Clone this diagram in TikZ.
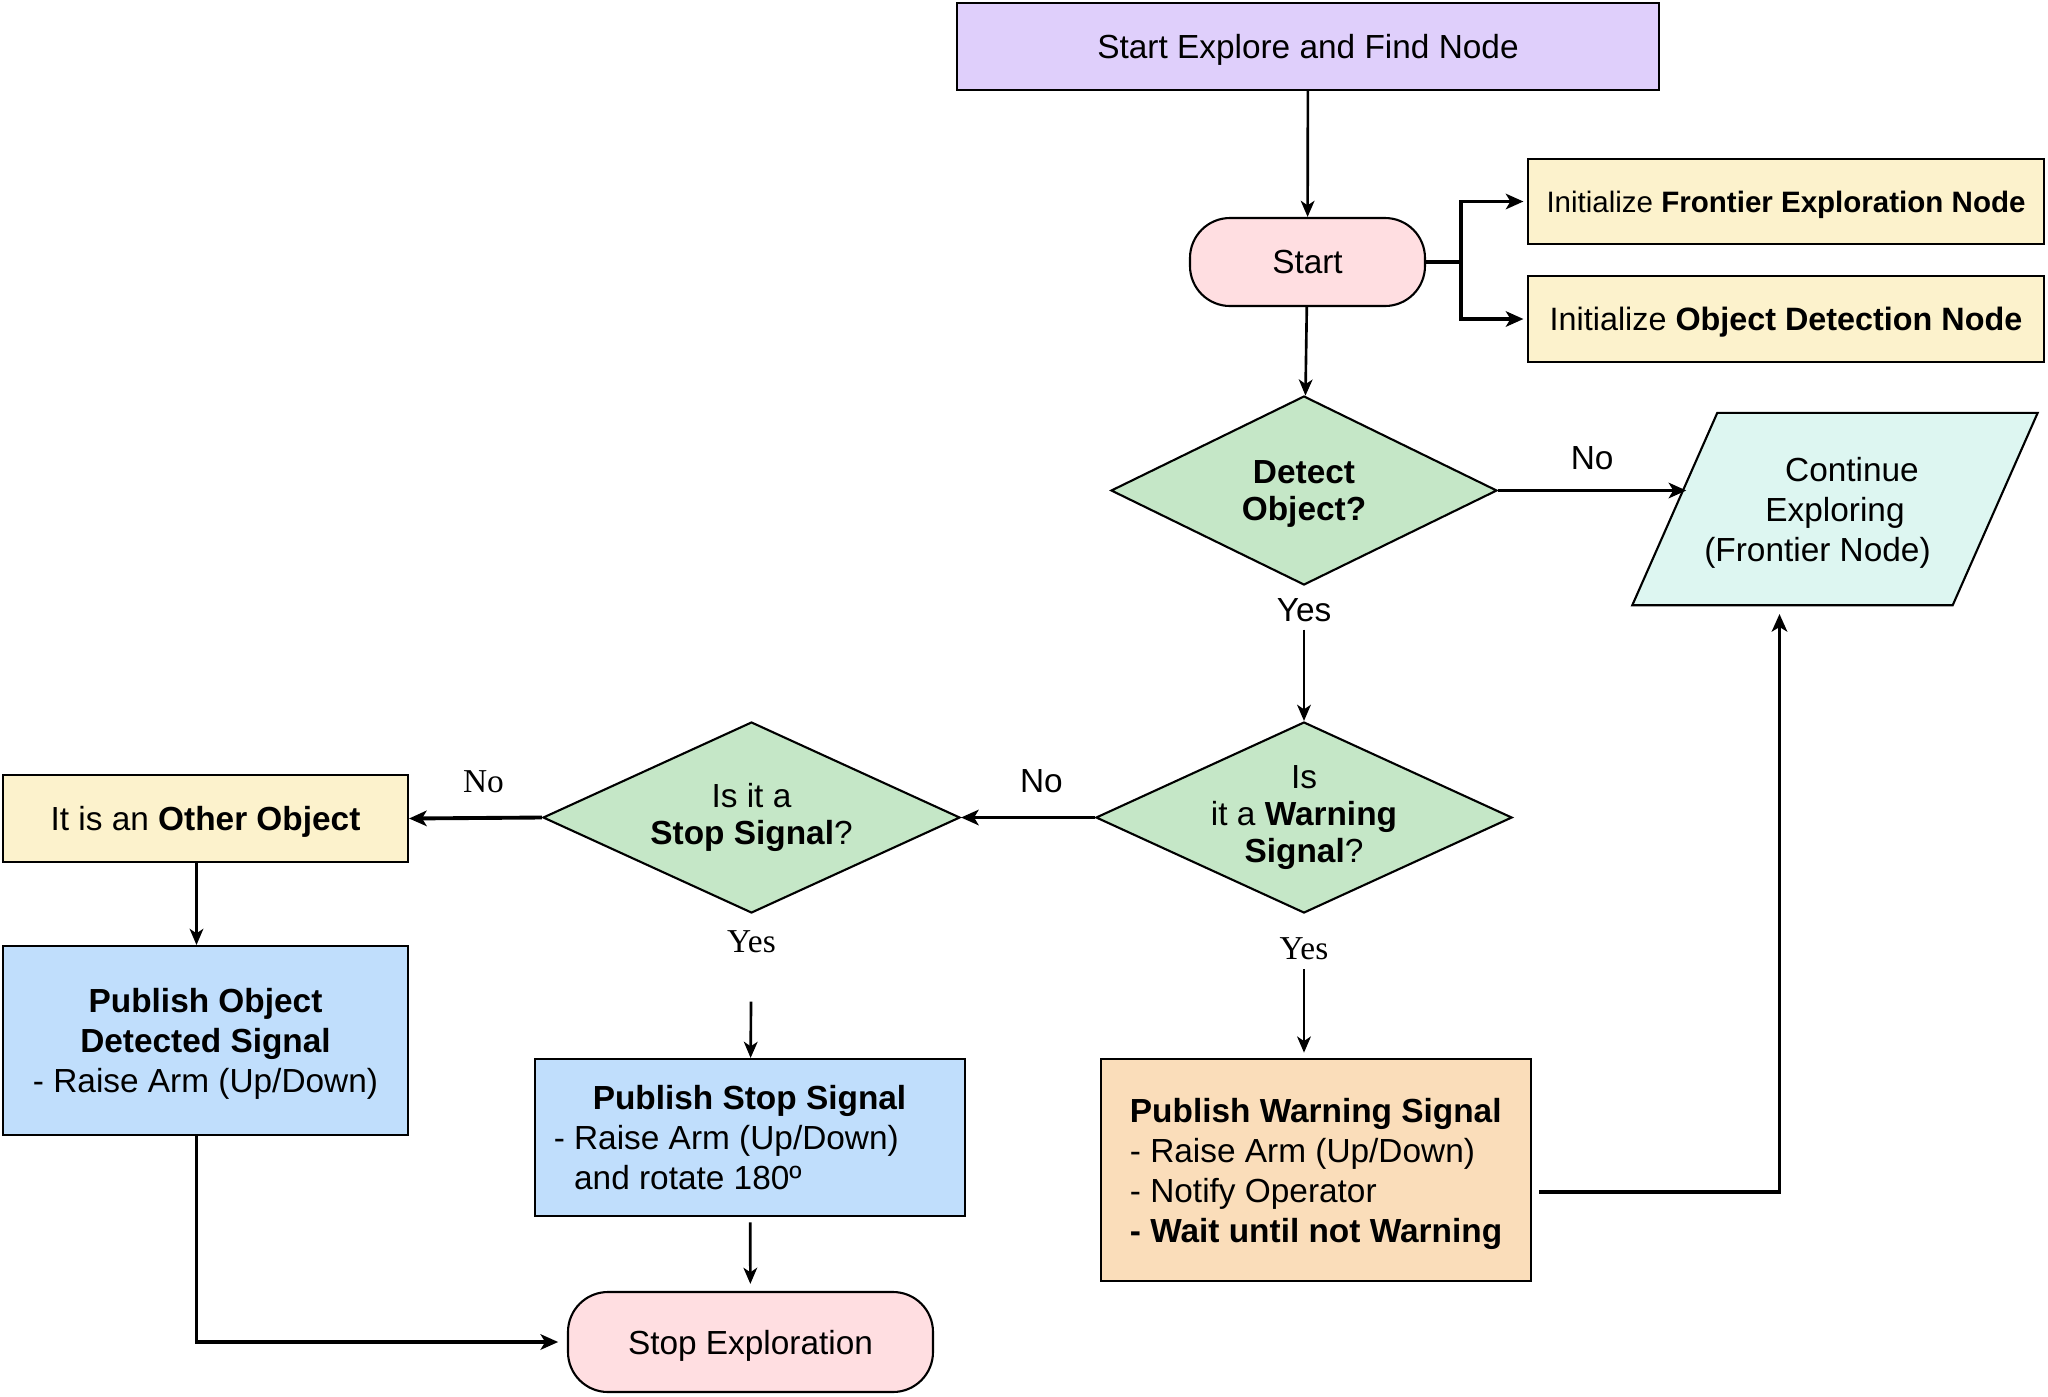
\documentclass[tikz,border=0pt]{standalone}
\usepackage{fontspec}
\setmainfont{Liberation Sans}
\newfontfamily\seriflabel{Liberation Serif}
\usetikzlibrary{shapes.geometric,arrows.meta,positioning,backgrounds}
\definecolor{lavender}{HTML}{DFCFFB}
\definecolor{termpink}{HTML}{FFDEE1}
\definecolor{noteyellow}{HTML}{FCF2CC}
\definecolor{askgreen}{HTML}{C5E7C7}
\definecolor{mintfill}{HTML}{DDF6F1}
\definecolor{pubblue}{HTML}{C0DEFC}
\definecolor{warnorange}{HTML}{FADDBA}
\tikzset{
    flow font/.style={font=\fontsize{9.5}{11.4}\selectfont},
    flow box/.style={draw, line width=0.6pt, rectangle, flow font, inner sep=2pt, align=center, text depth=0pt},
    terminal/.style={flow box, rounded corners=0.4cm, fill=termpink},
    decision/.style={draw, line width=0.6pt, diamond, aspect=2.2, inner sep=0pt, align=center, fill=askgreen,
        font=\fontsize{9.5}{10.6}\selectfont},
    io text/.style={rectangle, flow font, align=center, text depth=0pt, inner sep=0pt},
    io shape/.style={draw, line width=0.6pt, fill=mintfill, line join=miter},
    sans label/.style={flow font, inner sep=1pt},
    serif label/.style={font=\seriflabel\fontsize{9.5}{11}\selectfont, inner sep=1pt}
}

\begin{document}
\begin{tikzpicture}[thin arrow/.style={line width=0.75pt, -{Stealth[length=4.6pt, width=3.9pt, inset=1.3pt]}},
                    thick arrow/.style={line width=1.1pt, -{Stealth[length=5pt, width=4.4pt, inset=1.3pt]}}]
\useasboundingbox (0,0) rectangle (20.48,-13.96);

\node[flow box, fill=lavender, minimum width=7.02cm, minimum height=0.87cm] (explore) at (13.08,-0.465) {Start Explore and Find Node};
\node[terminal, minimum width=2.35cm, minimum height=0.88cm] (start) at (13.075,-2.62) {Start};
\node[flow box, fill=noteyellow, minimum width=5.16cm, minimum height=0.85cm, font=\fontsize{8.4}{10}\selectfont] (initfrontier) at (17.86,-2.015) {Initialize \textbf{Frontier Exploration Node}};
\node[flow box, fill=noteyellow, minimum width=5.16cm, minimum height=0.86cm, font=\fontsize{9.2}{11}\selectfont] (initdetect) at (17.86,-3.19) {Initialize \textbf{Object Detection Node}};

\node[decision, minimum width=3.86cm, minimum height=1.89cm, text depth=0pt] (detect) at (13.04,-4.905) {\textbf{Detect}\\\textbf{Object?}};
\node[io text, minimum width=4.04cm, minimum height=1.91cm] (continue) at (18.35,-5.09)
    {\mbox{\hspace{3.4mm}Continue}\\Exploring\\\mbox{(Frontier Node)\hspace{3.5mm}}};
\begin{scope}[on background layer]
\draw[io shape] ([xshift=0.85cm]continue.north west) -- (continue.north east)
    -- ([xshift=-0.85cm]continue.south east) -- (continue.south west) -- cycle;
\end{scope}
\coordinate (contin) at ([xshift=5.4mm]continue.west);
\node[sans label, below=2.4pt of detect] (yesdetect) {Yes};

\node[decision, minimum width=4.16cm, minimum height=1.91cm] (warning) at (13.04,-8.175) {Is\\it a \textbf{Warning}\\\textbf{Signal}?};
\node[decision, minimum width=4.17cm, minimum height=1.91cm] (stopsignal) at (7.515,-8.175) {Is it a\\\textbf{Stop Signal}?};
\node[flow box, fill=noteyellow, minimum width=4.05cm, minimum height=0.87cm] (other) at (2.055,-8.185) {It is an \textbf{Other Object}};
\node[serif label, below=5.5pt of warning] (yeswarning) {Yes};
\node[serif label, below=3.4pt of stopsignal] (yesstop) {Yes};

\node[flow box, fill=pubblue, minimum width=4.05cm, minimum height=1.89cm] (pubobject) at (2.055,-10.405)
    {\textbf{Publish Object}\\\textbf{Detected Signal}\\- Raise Arm (Up/Down)};
\node[flow box, fill=pubblue, minimum width=4.30cm, minimum height=1.57cm, align=left] (pubstop) at (7.50,-11.375)
    {\mbox{\hspace{3.9mm}\textbf{Publish Stop Signal}\hspace{4mm}}\\- Raise Arm (Up/Down)\\\hphantom{- }and rotate 180º};
\node[flow box, fill=warnorange, minimum width=4.30cm, minimum height=2.22cm, align=left] (pubwarning) at (13.16,-11.70)
    {\textbf{Publish Warning Signal}\\- Raise Arm (Up/Down)\\- Notify Operator\\\textbf{- Wait until not Warning}};
\node[terminal, minimum width=3.65cm, minimum height=1.00cm] (stopexp) at (7.505,-13.42) {Stop Exploration};

% top part
\draw[thin arrow] (explore) -- (start);
\draw[line width=1.1pt] (start.east) -- ++(0.35,0) coordinate (fork);
\draw[thick arrow, shorten >=1pt] (fork) |- (initfrontier.west);
\draw[thick arrow, shorten >=1pt] (fork) |- (initdetect.west);
\draw[thin arrow] (start) -- (detect);
\draw[thick arrow] (detect.east) -- node[sans label, above=4.4pt, pos=0.5] {No} (detect.east -| contin);
\draw[thin arrow, shorten <=1pt] (yesdetect) -- (warning);

% decisions
\draw[thick arrow] (warning.west) -- node[sans label, above=5.5pt, pos=0.4] {No} (stopsignal.east);
\draw[thick arrow] (stopsignal.west) -- node[serif label, above=5.5pt, pos=0.44] {No} (other.east);
\draw[thin arrow, shorten <=0.45cm] (yesstop) -- (pubstop);
\draw[thin arrow, shorten <=1.5pt, shorten >=1.5pt] (yeswarning) -- (yeswarning |- pubwarning.north);

% bottom part
\draw[thin arrow] ([xshift=-0.9mm]other.south) -- ([xshift=-0.9mm]pubobject.north);
\draw[thick arrow, shorten >=2.5pt] ([xshift=-0.9mm]pubobject.south) |- (stopexp.west);
\draw[thin arrow, shorten <=1.5pt, shorten >=2pt] (pubstop) -- (stopexp);
\draw[thick arrow, shorten <=2pt, shorten >=2.5pt] ([yshift=-2.2mm]pubwarning.east) -| ([xshift=-5.55mm]continue.south);
%\draw[thin arrow] (pubwarning) -- (continue);
\end{tikzpicture}
\end{document}
